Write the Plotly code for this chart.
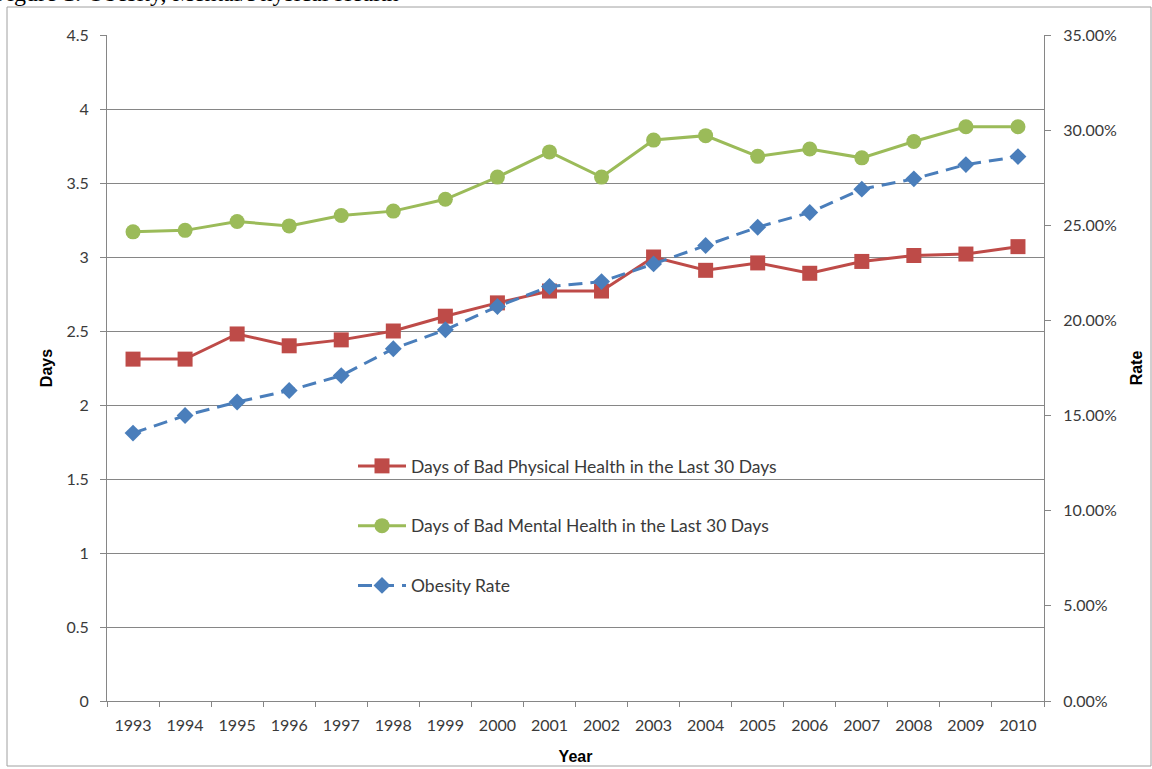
import plotly.graph_objects as go

years = [str(y) for y in range(1993, 2011)]
physical_days = [2.31, 2.31, 2.48, 2.40, 2.44, 2.50, 2.60, 2.69, 2.77, 2.77,
                 3.00, 2.91, 2.96, 2.89, 2.97, 3.01, 3.02, 3.07]
mental_days = [3.17, 3.18, 3.24, 3.21, 3.28, 3.31, 3.39, 3.54, 3.71, 3.54,
               3.79, 3.82, 3.68, 3.73, 3.67, 3.78, 3.88, 3.88]
obesity_rate = [0.1408, 0.1500, 0.1571, 0.1632, 0.1710, 0.1851, 0.1951, 0.2073, 0.2178, 0.2204,
                0.2297, 0.2394, 0.2490, 0.2567, 0.2690, 0.2744, 0.2819, 0.2861]

series_names = ["Days of Bad Physical Health in the Last 30 Days",
                "Days of Bad Mental Health in the Last 30 Days",
                "Obesity Rate"]

RED = "#BE4B48"
GREEN = "#9BBB59"
BLUE = "#4A7EBB"
GRID = "#868686"
TXT = "#3A3A3A"
FONT = "Lato, 'Open Sans', sans-serif"
TITLE_FONT = dict(family="Liberation Sans", size=16, color="black", weight="bold")

W, H = 1152, 769
L, R, T, B = 107, 1044, 35, 701

fig = go.Figure()
fig.add_trace(go.Scatter(
    x=years, y=physical_days, name=series_names[0], mode="lines+markers",
    line=dict(color=RED, width=3), marker=dict(symbol="square", size=15, color=RED),
    legendgroup="a", yaxis="y"))
fig.add_trace(go.Scatter(
    x=years, y=mental_days, name=series_names[1], mode="lines+markers",
    line=dict(color=GREEN, width=3), marker=dict(symbol="circle", size=15, color=GREEN),
    legendgroup="b", yaxis="y"))
fig.add_trace(go.Scatter(
    x=years, y=obesity_rate, name=series_names[2], mode="lines+markers",
    line=dict(color=BLUE, width=3, dash="14px,8px"),
    marker=dict(symbol="diamond", size=13, color=BLUE),
    legendgroup="c", yaxis="y2"))

pw = R - L
ph = B - T

def px_x(p):
    return (p - L) / pw

def px_y(p):
    return (B - p) / ph

fig.update_layout(
    width=W, height=H,
    margin=dict(l=L, r=W - R, t=T, b=H - B, pad=0, autoexpand=False),
    paper_bgcolor="white", plot_bgcolor="white",
    font=dict(family=FONT, size=16, color=TXT),
    showlegend=True,
    legend=dict(
        x=px_x(353), y=px_y(448), xanchor="left", yanchor="top",
        bgcolor="rgba(0,0,0,0)", font=dict(family=FONT, size=17.5, color=TXT),
        tracegroupgap=34, traceorder="grouped", itemwidth=48,
    ),
    xaxis=dict(
        type="category", categoryorder="array", categoryarray=years,
        showline=True, linecolor=GRID, linewidth=1, mirror=False,
        ticks="outside", ticklen=5, tickcolor=GRID, tickson="boundaries",
        showgrid=False, zeroline=False, ticklabelstandoff=10, automargin=False,
        tickfont=dict(family=FONT, size=16, color=TXT),
        title=dict(text="Year", font=TITLE_FONT, standoff=17),
        range=[-0.5, 17.5],
    ),
    yaxis=dict(
        range=[0, 4.5], dtick=0.5, tick0=0, automargin=False,
        showline=True, linecolor=GRID, linewidth=1,
        ticks="outside", ticklen=6, tickcolor=GRID, ticklabelstandoff=8,
        showgrid=True, gridcolor=GRID, gridwidth=1, zeroline=False,
        tickfont=dict(family=FONT, size=16, color=TXT),
        title=dict(text="Days", font=TITLE_FONT, standoff=9),
    ),
    yaxis2=dict(
        range=[0, 0.35], dtick=0.05, tick0=0, tickformat=".2%", automargin=False,
        overlaying="y", side="right",
        showline=True, linecolor=GRID, linewidth=1,
        ticks="outside", ticklen=6, tickcolor=GRID, ticklabelstandoff=9,
        showgrid=False, zeroline=False,
        tickfont=dict(family=FONT, size=16, color=TXT),
        title=dict(text="Rate", font=TITLE_FONT, standoff=14),
    ),
)

# outer chart border (Excel chart area)
fig.add_shape(type="rect", xref="paper", yref="paper",
              x0=px_x(7), x1=px_x(1151), y0=px_y(766), y1=px_y(7),
              line=dict(color="#A0A0A0", width=1), fillcolor="rgba(0,0,0,0)", layer="below")

# caption at the top of the page (clipped by the page edge, as in the source)
fig.add_annotation(text="Figure 1: Obesity, Mental/Physical Health",
                   xref="paper", yref="paper", x=px_x(-8), y=px_y(8),
                   xanchor="left", yanchor="bottom", showarrow=False,
                   font=dict(family="Liberation Serif", size=24, color="black"))

fig.write_html("out.html")
